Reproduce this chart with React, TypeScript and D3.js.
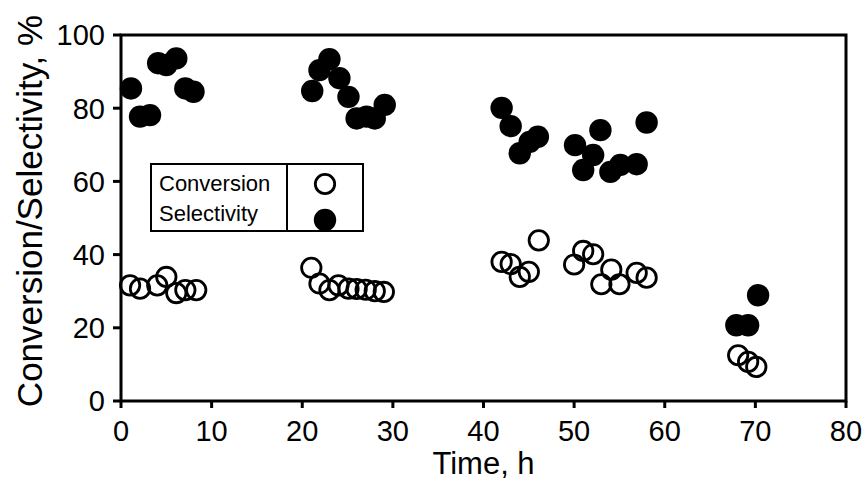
import React from "react";
import * as d3 from "d3";

// time (h) and values (%)
const convTime = [1, 2.1, 4, 5, 6.1, 7.1, 8.3, 21, 21.9, 23, 24, 25.1, 26, 27, 28, 29, 42, 43, 44, 45, 46.1, 50, 51, 52.1, 53, 54.1, 55, 56.9, 58, 68.1, 69.2, 70.1];
const conversion = [31.6, 30.7, 31.6, 33.9, 29.5, 30.3, 30.3, 36.4, 32.1, 30.3, 31.6, 30.7, 30.6, 30.4, 30, 29.8, 38, 37.4, 33.9, 35.3, 43.9, 37.3, 41, 40.1, 31.9, 35.9, 31.9, 35, 33.7, 12.5, 10.7, 9.3];

const selTime = [1.1, 2.1, 3.2, 4.1, 5, 6.1, 7.1, 8, 21.1, 21.9, 23, 24.1, 25.1, 26, 27.1, 28, 29.1, 42, 43, 44, 45.1, 46, 50.1, 51, 52.1, 52.9, 54, 55.1, 56.9, 58, 67.9, 69.2, 70.3];
const selectivity = [85.4, 77.7, 78.1, 92.3, 91.8, 93.6, 85.4, 84.5, 84.7, 90.4, 93.4, 88.2, 83.1, 77.2, 77.7, 77.2, 80.9, 80.1, 75.1, 67.7, 70.8, 72.2, 69.9, 63.1, 67.2, 74, 62.6, 64.5, 64.7, 76.1, 20.7, 20.7, 28.9];

const xTicks = [0, 10, 20, 30, 40, 50, 60, 70, 80];
const yTicks = [0, 20, 40, 60, 80, 100];

const W = 867;
const H = 483;
const margin = { left: 121, right: 21, top: 35, bottom: 82 };
const font = "'Liberation Sans', Arial, sans-serif";

export default function App() {
  const x = d3.scaleLinear().domain([0, 80]).range([margin.left, W - margin.right]);
  const y = d3.scaleLinear().domain([0, 100]).range([H - margin.bottom, margin.top]);
  const x0 = x(0), x1 = x(80), y0 = y(0), y1 = y(100);

  return (
    <svg width={W} height={H} style={{ position: "fixed", left: 0, top: 0, background: "#fff" }} fontFamily={font}>
      {/* points first so the frame sits on top */}
      {selTime.map((t, i) => (
        <circle key={"s" + i} cx={x(t)} cy={y(selectivity[i])} r={11.2} fill="#000" />
      ))}
      {convTime.map((t, i) => (
        <circle key={"c" + i} cx={x(t)} cy={y(conversion[i])} r={9.7} fill="none" stroke="#000" strokeWidth={2.8} />
      ))}

      <rect x={x0} y={y1} width={x1 - x0} height={y0 - y1} fill="none" stroke="#000" strokeWidth={3} />

      {yTicks.map((v) => (
        <g key={"y" + v}>
          <line x1={x0 - 8} x2={x0} y1={y(v)} y2={y(v)} stroke="#000" strokeWidth={3} />
          <text x={x0 - 16} y={y(v)} dy="0.36em" textAnchor="end" fontSize={29}>{v}</text>
        </g>
      ))}
      {xTicks.map((v) => (
        <g key={"x" + v}>
          <line x1={x(v)} x2={x(v)} y1={y0} y2={y0 + 7} stroke="#000" strokeWidth={3} />
          <text x={x(v)} y={y0 + 40} textAnchor="middle" fontSize={29}>{v}</text>
        </g>
      ))}

      <text x={(x0 + x1) / 2} y={474} textAnchor="middle" fontSize={31}>Time, h</text>
      <text transform="translate(42,211) rotate(-90)" textAnchor="middle" fontSize={35}>
        Conversion/Selectivity, %
      </text>

      <g>
        <rect x={151} y={164} width={212} height={67} fill="#fff" stroke="#000" strokeWidth={2} />
        <line x1={287} x2={287} y1={164} y2={231} stroke="#000" strokeWidth={2} />
        <text x={159} y={191} fontSize={22}>Conversion</text>
        <text x={159} y={221} fontSize={22}>Selectivity</text>
        <circle cx={325} cy={184} r={9.7} fill="none" stroke="#000" strokeWidth={2.8} />
        <circle cx={325} cy={220} r={11.2} fill="#000" />
      </g>
    </svg>
  );
}
